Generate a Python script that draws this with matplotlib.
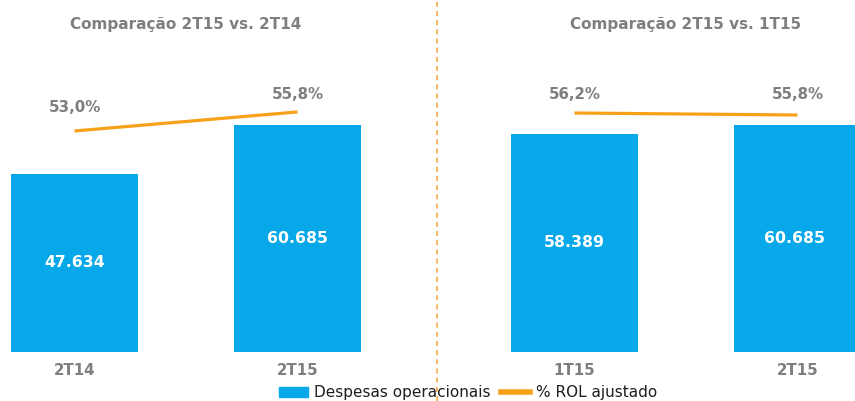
import matplotlib.pyplot as plt
from matplotlib.lines import Line2D

# dados
titulos = ['Comparação 2T15 vs. 2T14', 'Comparação 2T15 vs. 1T15']
periodos = [['2T14', '2T15'], ['1T15', '2T15']]
despesas = [[47634, 60685], [58389, 60685]]
rol_pct = [[53.0, 55.8], [56.2, 55.8]]

azul = '#06A8EA'
laranja = '#F7A11A'
cinza = '#7F7F7F'

W, H = 855, 401
fig = plt.figure(figsize=(W / 100, H / 100), dpi=100)
plt.rcParams['font.family'] = ['DejaVu Sans']

base = 352          # linha de base das barras (px a partir do topo)
passo = 223         # distância entre centros das barras (px)
largura = 127 / passo
escala = 227 / 60685  # px por unidade
# (px esquerda, px direita, centro da 1a barra, limites do eixo %, deslocamento dos rótulos %)
paineis = [
    (0, 437, 74.5, (20.5, 72.26), [16, 10]),
    (437, 855, 574.5, (8.4, 78.8), [11, 13]),
]

for i, (x0, x1, c0, lim2, offs) in enumerate(paineis):
    ax = fig.add_axes([x0 / W, (H - base) / H, (x1 - x0) / W, base / H])
    ax.set_xlim(-(c0 - x0) / passo, (x1 - c0) / passo)
    ax.set_ylim(0, base / escala)
    xs = [0, 1]
    barras = ax.bar(xs, despesas[i], width=largura, color=azul, zorder=2)
    ax.bar_label(barras, labels=[f'{v:,}'.replace(',', '.') for v in despesas[i]],
                 label_type='center', color='white', fontsize=11.3, fontweight='bold')
    ax.set_xticks(xs)
    ax.set_xticklabels(periodos[i], color=cinza, fontsize=10.8, fontweight='bold')
    ax.tick_params(axis='x', length=0, pad=8)
    ax.set_yticks([])
    for s in ax.spines.values():
        s.set_visible(False)

    ax2 = ax.twinx()
    ax2.set_ylim(*lim2)
    ax2.plot(xs, rol_pct[i], color=laranja, lw=2.3, solid_capstyle='butt', zorder=3)
    for x, v, o in zip(xs, rol_pct[i], offs):
        ax2.annotate(f'{v:.1f}%'.replace('.', ','), (x, v), xytext=(0, o),
                     textcoords='offset pixels', ha='center', va='bottom',
                     color=cinza, fontsize=10.8, fontweight='bold')
    ax2.set_yticks([])
    for s in ax2.spines.values():
        s.set_visible(False)

    centro = c0 + passo / 2
    fig.text(centro / W, 1 - 25 / H, titulos[i], ha='center', va='center',
             color=cinza, fontsize=11, fontweight='bold')

fig.add_artist(Line2D([437 / W, 437 / W], [0, 1], color='#F8AC45', lw=1.2,
                      linestyle=(0, (3, 2.5))))

handles = [plt.Rectangle((0, 0), 1, 1, color=azul),
           Line2D([0], [0], color=laranja, lw=4)]
fig.legend(handles, ['Despesas operacionais', '% ROL ajustado'], loc='center',
           bbox_to_anchor=(468 / W, 1 - 393 / H), ncol=2, frameon=False,
           fontsize=11, handlelength=1.9, handleheight=0.55, columnspacing=0.7,
           handletextpad=0.4, labelcolor='#1E1E1E')

fig.savefig('out.png', dpi=100)
